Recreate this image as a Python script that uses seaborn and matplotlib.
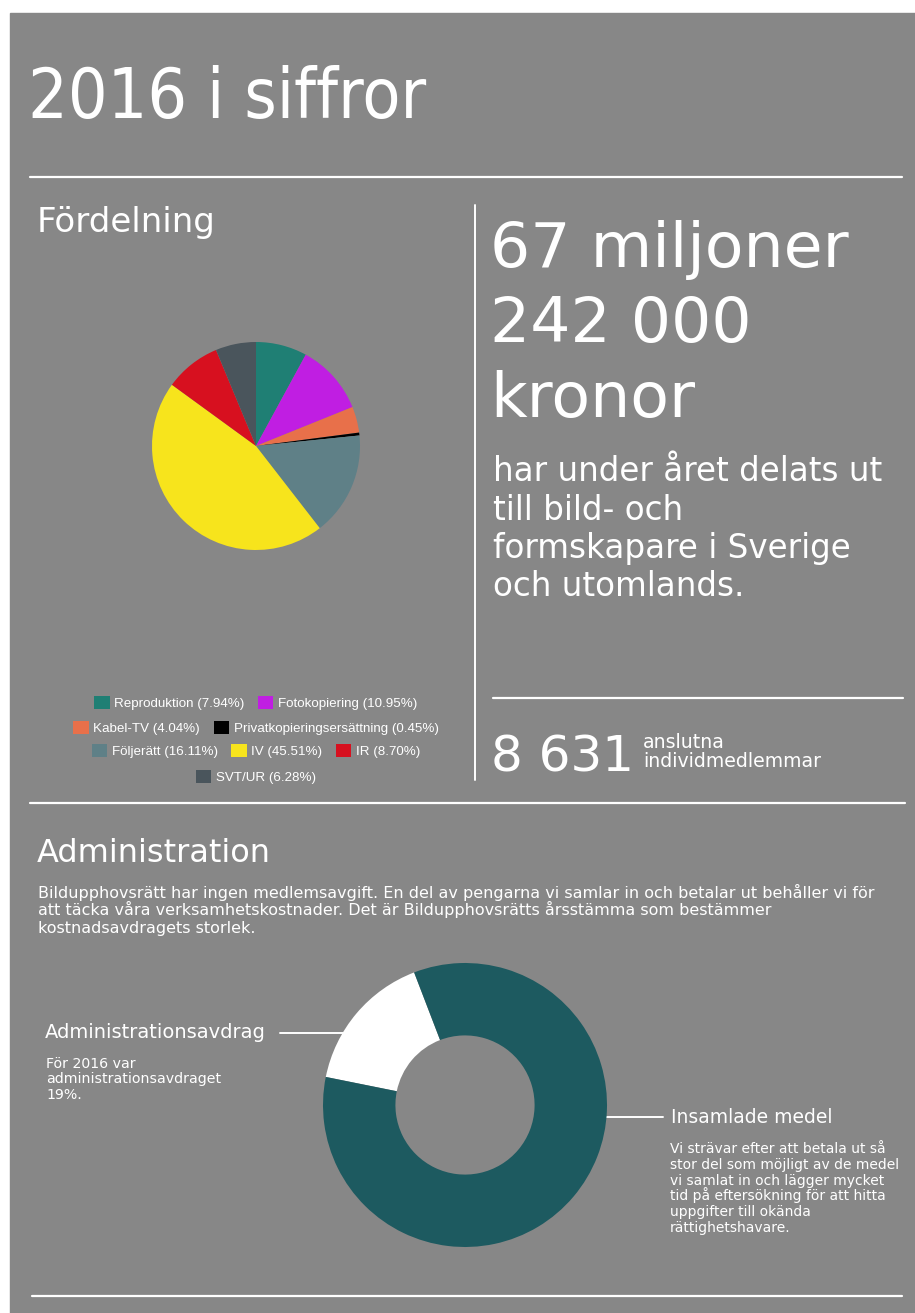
import numpy as np
import pandas as pd
import seaborn as sns
import matplotlib.pyplot as plt
from matplotlib.patches import Rectangle, Patch
from matplotlib.legend import Legend

sns.set_theme(style="white")
plt.rcParams['font.family'] = ['DejaVu Sans']

# pie data: fördelning 2016
categories = ['Reproduktion', 'Fotokopiering', 'Kabel-TV', 'Privatkopieringsersättning',
              'Följerätt', 'IV', 'IR', 'SVT/UR']
shares = [7.94, 10.95, 4.04, 0.45, 16.11, 45.51, 8.70, 6.28]
pie_colors = ['#1f7f74', '#c01ee2', '#e8704a', '#000000',
              '#5f8087', '#f7e41c', '#d7101f', '#4a555c']
legend_rows = [[0, 1], [2, 3], [4, 5, 6], [7]]

# donut data: administration
admin_labels = ['Administrationsavdrag', 'Insamlade medel']
admin_values = [16, 84]
admin_colors = ['#ffffff', '#1d5a60']

grey = '#878787'
W, H = 915, 1313

fig = plt.figure(figsize=(W / 100, H / 100), dpi=100)
fig.patch.set_facecolor('white')
bg = fig.add_axes([0, 0, 1, 1])
bg.set_xlim(0, W)
bg.set_ylim(H, 0)
bg.axis('off')
bg.add_patch(Rectangle((10, 13), W - 10, H - 13, color=grey, zorder=0))

def hline(x0, x1, y):
    bg.plot([x0, x1], [y, y], color='white', lw=1.6, solid_capstyle='round')

hline(30, 902, 177)
hline(493, 903, 698)
hline(30, 905, 803)
hline(32, 902, 1296)
bg.plot([475, 475], [205, 780], color='white', lw=1.4)

txt = dict(color='white', va='baseline', ha='left')
bg.text(28, 118, '2016 i siffror', fontsize=50, fontstretch='condensed', **txt)
bg.text(37, 232, 'Fördelning', fontsize=24.5, **txt)

big = ['67 miljoner', '242 000', 'kronor']
for i, s in enumerate(big):
    bg.text(490, 267 + i * 75, s, fontsize=45.5, **txt)
sub = ['har under året delats ut', 'till bild- och', 'formskapare i Sverige', 'och utomlands.']
for i, s in enumerate(sub):
    bg.text(493, 481 + i * 38.5, s, fontsize=23.5, **txt)

bg.text(491, 771, '8 631', fontsize=36, **txt)
bg.text(643, 748, 'anslutna', fontsize=13.6, **txt)
bg.text(643, 767, 'individmedlemmar', fontsize=13.6, **txt)

bg.text(37, 862, 'Administration', fontsize=23, **txt)
para = ['Bildupphovsrätt har ingen medlemsavgift. En del av pengarna vi samlar in och betalar ut behåller vi för',
        'att täcka våra verksamhetskostnader. Det är Bildupphovsrätts årsstämma som bestämmer',
        'kostnadsavdragets storlek.']
for i, s in enumerate(para):
    bg.text(38, 898 + i * 17.5, s, fontsize=11.5, **txt)

bg.text(45, 1038, admin_labels[0], fontsize=14, **txt)
bg.plot([280, 343], [1033, 1033], color='white', lw=1.4)
for i, s in enumerate(['För 2016 var', 'administrationsavdraget', '19%.']):
    bg.text(46, 1068 + i * 15.5, s, fontsize=10.2, **txt)

bg.text(671, 1123, admin_labels[1], fontsize=13.5, **txt)
bg.plot([585, 663], [1117, 1117], color='white', lw=1.4)
info = ['Vi strävar efter att betala ut så', 'stor del som möjligt av de medel',
        'vi samlat in och lägger mycket', 'tid på eftersökning för att hitta',
        'uppgifter till okända', 'rättighetshavare.']
for i, s in enumerate(info):
    bg.text(670, 1153 + i * 15.8, s, fontsize=10, **txt)

# pie chart
cx, cy, r = 256, 446, 104
ax1 = fig.add_axes([(cx - r) / W, 1 - (cy + r) / H, 2 * r / W, 2 * r / H])
pal = sns.color_palette(pie_colors)
ax1.pie(shares, colors=pal, startangle=90, counterclock=False,
        wedgeprops=dict(edgecolor='none'))
ax1.set_xlim(-1, 1)
ax1.set_ylim(-1, 1)
ax1.axis('off')

# legend rows, centred under the pie
row_y = [703, 728, 751, 777]
for row, y in zip(legend_rows, row_y):
    handles = [Patch(facecolor=pal[k], edgecolor='none') for k in row]
    labels = [f'{categories[k]} ({shares[k]:.2f}%)' for k in row]
    leg = Legend(bg, handles, labels, ncol=len(row), loc='center',
                 bbox_to_anchor=(256, y), bbox_transform=bg.transData,
                 frameon=False, labelcolor='white',
                 prop={'family': 'Liberation Sans', 'size': 9.6},
                 handlelength=1.15, handleheight=1.15, handletextpad=0.35,
                 columnspacing=1.0, borderpad=0, borderaxespad=0)
    bg.add_artist(leg)

# donut chart
dx, dy, dr = 465, 1105, 142
ax2 = fig.add_axes([(dx - dr) / W, 1 - (dy + dr) / H, 2 * dr / W, 2 * dr / H])
ax2.pie(admin_values, colors=admin_colors, startangle=111, counterclock=True,
        wedgeprops=dict(width=0.51, edgecolor='none'))
ax2.set_xlim(-1, 1)
ax2.set_ylim(-1, 1)
ax2.axis('off')

fig.savefig('out.png', dpi=100, facecolor='white')
